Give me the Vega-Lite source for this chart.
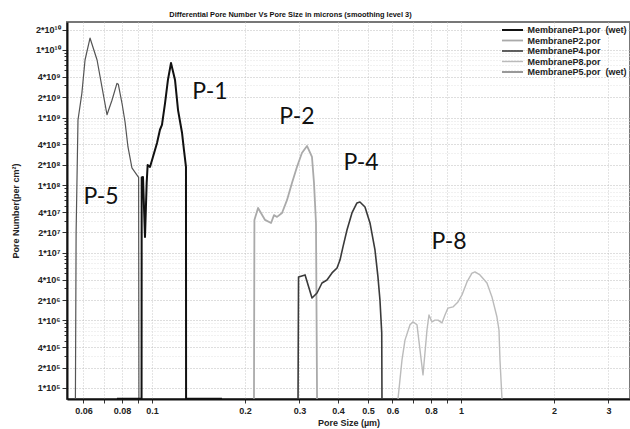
{
  "$schema": "https://vega.github.io/schema/vega-lite/v6.json",
  "width": 563,
  "height": 377,
  "autosize": {"type": "none"},
  "padding": {"left": 67, "top": 22, "right": 0, "bottom": 30},
  "background": "white",
  "title": {
    "text": "Differential Pore Number Vs Pore Size in  microns (smoothing level 3)",
    "fontSize": 7.4,
    "fontWeight": "bold",
    "font": "Liberation Sans",
    "color": "#111",
    "anchor": "middle",
    "dx": -58,
    "offset": 4
  },
  "config": {
    "view": {"stroke": "#777", "strokeWidth": 2},
    "axis": {
      "labelFont": "Liberation Sans",
      "titleFont": "Liberation Sans",
      "labelFontWeight": "bold",
      "titleFontWeight": "bold",
      "labelFontSize": 9,
      "titleFontSize": 9,
      "labelColor": "#222",
      "titleColor": "#222",
      "domainColor": "#111",
      "domainWidth": 2,
      "tickColor": "#333",
      "gridDash": [1, 2],
      "gridWidth": 1
    },
    "legend": {
      "labelFont": "Liberation Sans",
      "labelFontWeight": "bold",
      "labelFontSize": 9,
      "labelColor": "#222"
    }
  },
  "datasets": {
    "curves": [
      {"s": "MembraneP5.por\u00a0 (wet)", "i": 0, "x": 0.0565, "y": 69000},
      {"s": "MembraneP5.por\u00a0 (wet)", "i": 1, "x": 0.0568, "y": 20000000},
      {"s": "MembraneP5.por\u00a0 (wet)", "i": 2, "x": 0.0576, "y": 920000000},
      {"s": "MembraneP5.por\u00a0 (wet)", "i": 3, "x": 0.0593, "y": 2300000000},
      {"s": "MembraneP5.por\u00a0 (wet)", "i": 4, "x": 0.0607, "y": 7100000000},
      {"s": "MembraneP5.por\u00a0 (wet)", "i": 5, "x": 0.0630, "y": 15000000000},
      {"s": "MembraneP5.por\u00a0 (wet)", "i": 6, "x": 0.0664, "y": 7100000000},
      {"s": "MembraneP5.por\u00a0 (wet)", "i": 7, "x": 0.0689, "y": 2800000000},
      {"s": "MembraneP5.por\u00a0 (wet)", "i": 8, "x": 0.0715, "y": 1100000000},
      {"s": "MembraneP5.por\u00a0 (wet)", "i": 9, "x": 0.0742, "y": 1800000000},
      {"s": "MembraneP5.por\u00a0 (wet)", "i": 10, "x": 0.0770, "y": 3200000000},
      {"s": "MembraneP5.por\u00a0 (wet)", "i": 11, "x": 0.0778, "y": 3100000000},
      {"s": "MembraneP5.por\u00a0 (wet)", "i": 12, "x": 0.0800, "y": 1600000000},
      {"s": "MembraneP5.por\u00a0 (wet)", "i": 13, "x": 0.0818, "y": 860000000},
      {"s": "MembraneP5.por\u00a0 (wet)", "i": 14, "x": 0.0836, "y": 367000000},
      {"s": "MembraneP5.por\u00a0 (wet)", "i": 15, "x": 0.0861, "y": 180000000},
      {"s": "MembraneP5.por\u00a0 (wet)", "i": 16, "x": 0.0893, "y": 142000000},
      {"s": "MembraneP5.por\u00a0 (wet)", "i": 17, "x": 0.0905, "y": 130000000},
      {"s": "MembraneP5.por\u00a0 (wet)", "i": 18, "x": 0.0907, "y": 69000},

      {"s": "MembraneP1.por\u00a0 (wet)", "i": 0, "x": 0.0770, "y": 69000},
      {"s": "MembraneP1.por\u00a0 (wet)", "i": 1, "x": 0.0925, "y": 69000},
      {"s": "MembraneP1.por\u00a0 (wet)", "i": 2, "x": 0.0926, "y": 130000000},
      {"s": "MembraneP1.por\u00a0 (wet)", "i": 3, "x": 0.0935, "y": 132000000},
      {"s": "MembraneP1.por\u00a0 (wet)", "i": 4, "x": 0.0949, "y": 17100000},
      {"s": "MembraneP1.por\u00a0 (wet)", "i": 5, "x": 0.0961, "y": 108000000},
      {"s": "MembraneP1.por\u00a0 (wet)", "i": 6, "x": 0.0968, "y": 199000000},
      {"s": "MembraneP1.por\u00a0 (wet)", "i": 7, "x": 0.0985, "y": 186000000},
      {"s": "MembraneP1.por\u00a0 (wet)", "i": 8, "x": 0.1007, "y": 261000000},
      {"s": "MembraneP1.por\u00a0 (wet)", "i": 9, "x": 0.1038, "y": 420000000},
      {"s": "MembraneP1.por\u00a0 (wet)", "i": 10, "x": 0.1061, "y": 660000000},
      {"s": "MembraneP1.por\u00a0 (wet)", "i": 11, "x": 0.1077, "y": 780000000},
      {"s": "MembraneP1.por\u00a0 (wet)", "i": 12, "x": 0.1102, "y": 1640000000},
      {"s": "MembraneP1.por\u00a0 (wet)", "i": 13, "x": 0.1126, "y": 3600000000},
      {"s": "MembraneP1.por\u00a0 (wet)", "i": 14, "x": 0.1152, "y": 6400000000},
      {"s": "MembraneP1.por\u00a0 (wet)", "i": 15, "x": 0.1187, "y": 3600000000},
      {"s": "MembraneP1.por\u00a0 (wet)", "i": 16, "x": 0.1214, "y": 1290000000},
      {"s": "MembraneP1.por\u00a0 (wet)", "i": 17, "x": 0.1251, "y": 590000000},
      {"s": "MembraneP1.por\u00a0 (wet)", "i": 18, "x": 0.1269, "y": 330000000},
      {"s": "MembraneP1.por\u00a0 (wet)", "i": 19, "x": 0.1288, "y": 186000000},
      {"s": "MembraneP1.por\u00a0 (wet)", "i": 20, "x": 0.1289, "y": 69000},
      {"s": "MembraneP1.por\u00a0 (wet)", "i": 21, "x": 0.1684, "y": 69000},

      {"s": "MembraneP2.por", "i": 0, "x": 0.2138, "y": 69000},
      {"s": "MembraneP2.por", "i": 1, "x": 0.2145, "y": 30600000},
      {"s": "MembraneP2.por", "i": 2, "x": 0.2204, "y": 46000000},
      {"s": "MembraneP2.por", "i": 3, "x": 0.2322, "y": 30600000},
      {"s": "MembraneP2.por", "i": 4, "x": 0.2428, "y": 27600000},
      {"s": "MembraneP2.por", "i": 5, "x": 0.2482, "y": 36000000},
      {"s": "MembraneP2.por", "i": 6, "x": 0.2539, "y": 33900000},
      {"s": "MembraneP2.por", "i": 7, "x": 0.2635, "y": 38800000},
      {"s": "MembraneP2.por", "i": 8, "x": 0.2734, "y": 60000000},
      {"s": "MembraneP2.por", "i": 9, "x": 0.2838, "y": 108000000},
      {"s": "MembraneP2.por", "i": 10, "x": 0.2945, "y": 186000000},
      {"s": "MembraneP2.por", "i": 11, "x": 0.3056, "y": 299000000},
      {"s": "MembraneP2.por", "i": 12, "x": 0.3174, "y": 380000000},
      {"s": "MembraneP2.por", "i": 13, "x": 0.3294, "y": 261000000},
      {"s": "MembraneP2.por", "i": 14, "x": 0.3344, "y": 108000000},
      {"s": "MembraneP2.por", "i": 15, "x": 0.3394, "y": 27600000},
      {"s": "MembraneP2.por", "i": 16, "x": 0.3421, "y": 69000},

      {"s": "MembraneP4.por", "i": 0, "x": 0.2969, "y": 69000},
      {"s": "MembraneP4.por", "i": 1, "x": 0.2980, "y": 4380000},
      {"s": "MembraneP4.por", "i": 2, "x": 0.3129, "y": 4700000},
      {"s": "MembraneP4.por", "i": 3, "x": 0.3295, "y": 2140000},
      {"s": "MembraneP4.por", "i": 4, "x": 0.3420, "y": 2540000},
      {"s": "MembraneP4.por", "i": 5, "x": 0.3549, "y": 3570000},
      {"s": "MembraneP4.por", "i": 6, "x": 0.3684, "y": 3960000},
      {"s": "MembraneP4.por", "i": 7, "x": 0.3824, "y": 5030000},
      {"s": "MembraneP4.por", "i": 8, "x": 0.3970, "y": 5960000},
      {"s": "MembraneP4.por", "i": 9, "x": 0.4059, "y": 7800000},
      {"s": "MembraneP4.por", "i": 10, "x": 0.4150, "y": 12200000},
      {"s": "MembraneP4.por", "i": 11, "x": 0.4276, "y": 21700000},
      {"s": "MembraneP4.por", "i": 12, "x": 0.4438, "y": 38800000},
      {"s": "MembraneP4.por", "i": 13, "x": 0.4606, "y": 54600000},
      {"s": "MembraneP4.por", "i": 14, "x": 0.4710, "y": 56400000},
      {"s": "MembraneP4.por", "i": 15, "x": 0.4890, "y": 47600000},
      {"s": "MembraneP4.por", "i": 16, "x": 0.5076, "y": 27600000},
      {"s": "MembraneP4.por", "i": 17, "x": 0.5268, "y": 11000000},
      {"s": "MembraneP4.por", "i": 18, "x": 0.5386, "y": 4400000},
      {"s": "MembraneP4.por", "i": 19, "x": 0.5467, "y": 2000000},
      {"s": "MembraneP4.por", "i": 20, "x": 0.5540, "y": 650000},
      {"s": "MembraneP4.por", "i": 21, "x": 0.5550, "y": 69000},

      {"s": "MembraneP8.por", "i": 0, "x": 0.6254, "y": 69000},
      {"s": "MembraneP8.por", "i": 1, "x": 0.6443, "y": 260000},
      {"s": "MembraneP8.por", "i": 2, "x": 0.6588, "y": 510000},
      {"s": "MembraneP8.por", "i": 3, "x": 0.6839, "y": 860000},
      {"s": "MembraneP8.por", "i": 4, "x": 0.6994, "y": 950000},
      {"s": "MembraneP8.por", "i": 5, "x": 0.7205, "y": 860000},
      {"s": "MembraneP8.por", "i": 6, "x": 0.7535, "y": 156000},
      {"s": "MembraneP8.por", "i": 7, "x": 0.7762, "y": 720000},
      {"s": "MembraneP8.por", "i": 8, "x": 0.7878, "y": 1200000},
      {"s": "MembraneP8.por", "i": 9, "x": 0.8056, "y": 950000},
      {"s": "MembraneP8.por", "i": 10, "x": 0.8238, "y": 1010000},
      {"s": "MembraneP8.por", "i": 11, "x": 0.8425, "y": 1010000},
      {"s": "MembraneP8.por", "i": 12, "x": 0.8681, "y": 920000},
      {"s": "MembraneP8.por", "i": 13, "x": 0.8875, "y": 1200000},
      {"s": "MembraneP8.por", "i": 14, "x": 0.9076, "y": 1520000},
      {"s": "MembraneP8.por", "i": 15, "x": 0.9421, "y": 1580000},
      {"s": "MembraneP8.por", "i": 16, "x": 0.9779, "y": 1870000},
      {"s": "MembraneP8.por", "i": 17, "x": 1.0075, "y": 2380000},
      {"s": "MembraneP8.por", "i": 18, "x": 1.0457, "y": 3700000},
      {"s": "MembraneP8.por", "i": 19, "x": 1.0854, "y": 5000000},
      {"s": "MembraneP8.por", "i": 20, "x": 1.1099, "y": 5200000},
      {"s": "MembraneP8.por", "i": 21, "x": 1.1521, "y": 4700000},
      {"s": "MembraneP8.por", "i": 22, "x": 1.2137, "y": 3570000},
      {"s": "MembraneP8.por", "i": 23, "x": 1.2595, "y": 2220000},
      {"s": "MembraneP8.por", "i": 24, "x": 1.3075, "y": 1120000},
      {"s": "MembraneP8.por", "i": 25, "x": 1.3274, "y": 720000},
      {"s": "MembraneP8.por", "i": 26, "x": 1.3373, "y": 260000},
      {"s": "MembraneP8.por", "i": 27, "x": 1.3574, "y": 69000}
    ],
    "labels": [
      {"t": "P-1", "x": 0.154, "y": 2400000000},
      {"t": "P-2", "x": 0.2945, "y": 1020000000},
      {"t": "P-4", "x": 0.4747, "y": 213000000},
      {"t": "P-5", "x": 0.0684, "y": 67000000},
      {"t": "P-8", "x": 0.9145, "y": 14500000}
    ]
  },
  "layer": [
    {
      "data": {"name": "curves"},
      "mark": {"type": "line", "clip": true, "strokeJoin": "round"},
      "encoding": {
        "x": {
          "field": "x", "type": "quantitative",
          "scale": {"type": "log", "domain": [0.05307, 3.524], "nice": false, "zero": false},
          "axis": {
            "title": "Pore Size (µm)",
            "values": [0.06, 0.07, 0.08, 0.09, 0.1, 0.2, 0.3, 0.4, 0.5, 0.6, 0.7, 0.8, 0.9, 1, 2, 3],
            "labelExpr": "indexof([0.07, 0.09, 0.7, 0.9], datum.value) >= 0 ? '' : '' + datum.value",
            "tickSize": 4,
            "labelPadding": 3,
            "titlePadding": 3,
            "gridColor": "#c8c8c8",
            "labelFlush": false
          }
        },
        "y": {
          "field": "y", "type": "quantitative",
          "scale": {"type": "log", "domain": [68700, 25900000000], "nice": false, "zero": false},
          "axis": {
            "title": "Pore Number(per cm²)",
            "values": [100000, 200000, 300000, 400000, 500000, 600000, 700000, 800000, 900000,
                       1000000, 2000000, 3000000, 4000000, 5000000, 6000000, 7000000, 8000000, 9000000,
                       10000000, 20000000, 30000000, 40000000, 50000000, 60000000, 70000000, 80000000, 90000000,
                       100000000, 200000000, 300000000, 400000000, 500000000, 600000000, 700000000, 800000000, 900000000,
                       1000000000, 2000000000, 3000000000, 4000000000, 5000000000, 6000000000, 7000000000, 8000000000, 9000000000,
                       10000000000, 20000000000],
            "labelExpr": "indexof([1, 2, 4], round(datum.value / pow(10, floor(log(datum.value) / LN10 + 0.000001)))) >= 0 ? round(datum.value / pow(10, floor(log(datum.value) / LN10 + 0.000001))) + '*10' + ['', '', '', '', '', '⁵', '⁶', '⁷', '⁸', '⁹', '¹⁰'][floor(log(datum.value) / LN10 + 0.000001)] : ''",
            "tickSize": {"condition": {"test": "indexof([1, 2, 4], round(datum.value / pow(10, floor(log(datum.value) / LN10 + 0.000001)))) >= 0", "value": 5}, "value": 3},
            "gridColor": {"condition": {"test": "indexof([1, 2, 4], round(datum.value / pow(10, floor(log(datum.value) / LN10 + 0.000001)))) >= 0", "value": "#bdbdbd"}, "value": "#e2e2e2"},
            "labelPadding": 2,
            "titleX": -47,
            "labelFlush": false
          }
        },
        "color": {
          "field": "s", "type": "nominal",
          "scale": {
            "domain": ["MembraneP1.por\u00a0 (wet)", "MembraneP2.por", "MembraneP4.por", "MembraneP8.por", "MembraneP5.por\u00a0 (wet)"],
            "range": ["#111111", "#aaaaaa", "#3a3a3a", "#bbbbbb", "#555555"]
          },
          "legend": {
            "title": null,
            "orient": "none",
            "legendX": 441,
            "legendY": 3.5,
            "symbolType": "M-3.5,0H3.5",
            "symbolSize": 36,
            "symbolStrokeWidth": 1.5,
            "symbolFillColor": "transparent",
            "labelOffset": 10.5,
            "rowPadding": 0.5
          }
        },
        "strokeWidth": {
          "field": "s", "type": "nominal",
          "scale": {
            "domain": ["MembraneP1.por\u00a0 (wet)", "MembraneP2.por", "MembraneP4.por", "MembraneP8.por", "MembraneP5.por\u00a0 (wet)"],
            "range": [2, 1.2, 1.6, 1.2, 1.6]
          },
          "legend": null
        },
        "detail": {"field": "s"},
        "order": {"field": "i", "type": "quantitative"}
      }
    },
    {
      "data": {"name": "labels"},
      "mark": {"type": "text", "font": "Lato", "fontSize": 23, "color": "#111", "baseline": "middle", "align": "center"},
      "encoding": {
        "x": {"field": "x", "type": "quantitative"},
        "y": {"field": "y", "type": "quantitative"},
        "text": {"field": "t"}
      }
    }
  ]
}
